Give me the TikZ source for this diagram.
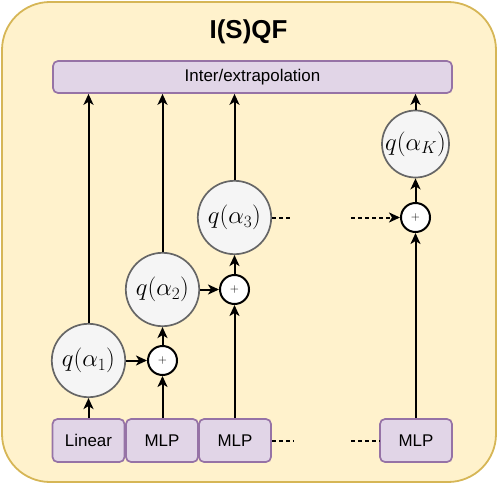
\documentclass[tikz,border=0pt]{standalone}
\usepackage[no-math]{fontspec}
\setmainfont{Liberation Sans}
\usetikzlibrary{arrows.meta}
\definecolor{outerfill}{HTML}{FFF2CC}
\definecolor{outerdraw}{HTML}{D6B656}
\definecolor{boxfill}{HTML}{E1D5E7}
\definecolor{boxdraw}{HTML}{9673A6}
\definecolor{qfill}{HTML}{F5F5F5}
\definecolor{qdraw}{HTML}{666666}
\tikzset{
  outerbox/.style={draw=outerdraw, fill=outerfill, line width=1.8bp, rounded corners=48bp},
  purplebox/.style={draw=boxdraw, fill=boxfill, line width=1.7bp, rounded corners=5bp,
    font=\fontsize{17}{20}\selectfont, inner sep=0pt},
  unitbox/.style={purplebox, minimum width=72bp, minimum height=43bp},
  qcircle/.style={circle, draw=qdraw, fill=qfill, line width=1.7bp, inner sep=0pt,
    font=\fontsize{24}{28}\selectfont},
  sumcircle/.style={circle, draw=black, fill=white, line width=2bp, inner sep=0pt,
    minimum size=29bp, font=\fontsize{13}{15}\selectfont},
  arr/.style={-{Stealth[length=11bp,width=10bp,inset=3bp]}, line width=2bp},
  dashline/.style={line width=2bp, dash pattern=on 4bp off 3bp},
}
\begin{document}
\begin{tikzpicture}[x=1bp, y=-1bp]
\useasboundingbox (0,0) rectangle (498,488);
\draw[outerbox] (2,2) rectangle (496,482);
\node[font=\fontsize{26}{30}\selectfont\bfseries, anchor=base] (title) at (248.5,38.5) {I(S)QF};
\node[purplebox, minimum width=399bp, minimum height=32bp] (bar) at (252.5,77) {Inter/extrapolation};

\node[unitbox] (lin) at (88.5,440.5) {Linear};
\node[unitbox] (mlpa) at (162,440.5) {MLP};
\node[unitbox] (mlpb) at (235,440.5) {MLP};
\node[unitbox] (mlpk) at (416,440.5) {MLP};

\node[qcircle, minimum size=73.4bp] (q1) at (88.5,360.5) {$q(\alpha_1)$};
\node[qcircle, minimum size=73.4bp] (q2) at (162.5,289.5) {$q(\alpha_2)$};
\node[qcircle, minimum size=73.4bp] (q3) at (234.5,217.5) {$q(\alpha_3)$};
\node[qcircle, minimum size=67bp] (qk) at (415.5,144) {$q(\alpha_K)$};

\node[sumcircle] (s1) at (162.5,360.5) {$+$};
\node[sumcircle] (s2) at (234.5,289.5) {$+$};
\node[sumcircle] (sk) at (415.5,217.5) {$+$};

\coordinate (d1) at (293,217.5);
\coordinate (d2) at (351,217.5);
\coordinate (d3) at (293,440.5);
\coordinate (d4) at (351,440.5);

\draw[arr] (lin.north -| q1) -- (q1);
\draw[arr] (q1) -- (q1 |- bar.south);
\draw[arr] (q1) -- (s1);
\draw[arr] (mlpa.north -| s1) -- (s1);
\draw[arr] (s1) -- (q2);
\draw[arr] (q2) -- (q2 |- bar.south);
\draw[arr] (q2) -- (s2);
\draw[arr] (mlpb.north -| s2) -- (s2);
\draw[arr] (s2) -- (q3);
\draw[arr] (q3) -- (q3 |- bar.south);
\draw[arr] (mlpk.north -| sk) -- (sk);
\draw[arr] (sk) -- (qk);
\draw[arr] (qk) -- (qk |- bar.south);

\draw[dashline] (q3.east |- d1) -- (d1);
\draw[dashline, arr] (d2) -- (sk);
\draw[dashline] (mlpb.east) -- (d3);
\draw[dashline] (d4) -- (mlpk.west);
\end{tikzpicture}
\end{document}
